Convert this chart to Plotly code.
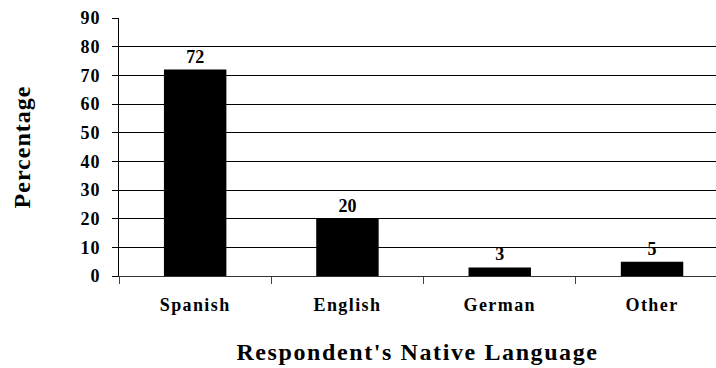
import plotly.graph_objects as go

# Survey results: respondents' native language
languages = ["Spanish", "English", "German", "Other"]
percentages = [72, 20, 3, 5]
y_ticks = [0, 10, 20, 30, 40, 50, 60, 70, 80, 90]

SERIF = "Liberation Serif, Times New Roman, serif"

fig = go.Figure(
    go.Bar(
        x=languages,
        y=percentages,
        marker=dict(color="black", line=dict(width=0)),
        text=[str(v) for v in percentages],
        textposition="outside",
        textfont=dict(family=SERIF, size=18, color="black", weight="bold"),
        cliponaxis=False,
        width=0.41,
    )
)

fig.update_layout(
    width=716,
    height=368,
    margin=dict(l=119, r=0, t=18, b=92),
    paper_bgcolor="white",
    plot_bgcolor="white",
    showlegend=False,
    font=dict(family=SERIF, color="black", weight="bold"),
)

fig.update_xaxes(
    type="category",
    range=[-0.5, 3.42],
    tickson="boundaries",
    ticks="outside",
    ticklen=7,
    tickwidth=1,
    tickcolor="#444",
    showline=True,
    linecolor="#333",
    linewidth=1,
    showgrid=False,
    tickfont=dict(family=SERIF, size=18, color="black", weight="bold"),
    ticklabelstandoff=12,
    title=dict(
        text="Respondent's Native Language",
        font=dict(family=SERIF, size=24, color="black", weight="bold"),
        standoff=29,
    ),
    automargin=False,
)

fig.update_yaxes(
    range=[0, 90],
    tickmode="array",
    tickvals=y_ticks,
    ticktext=[str(v) for v in y_ticks],
    ticks="outside",
    ticklen=6,
    tickwidth=1,
    tickcolor="black",
    showline=True,
    linecolor="black",
    linewidth=1,
    showgrid=True,
    gridcolor="black",
    gridwidth=1,
    zeroline=False,
    tickfont=dict(family=SERIF, size=18, color="black", weight="bold"),
    ticklabelstandoff=8,
    title=dict(
        text="Percentage",
        font=dict(family=SERIF, size=24, color="black", weight="bold"),
        standoff=45,
    ),
    automargin=False,
)

# Widen the letter spacing of the chart text after rendering
spacing_js = """
var gd = document.getElementById('{plot_id}');
gd.querySelectorAll('.xtick text').forEach(function(t){ t.style.letterSpacing = '1.4px'; });
gd.querySelectorAll('.ytick text').forEach(function(t){ t.style.letterSpacing = '1px'; });
gd.querySelectorAll('.textpoint text').forEach(function(t){ t.style.letterSpacing = '1.5px'; });
gd.querySelectorAll('.xtitle').forEach(function(t){ t.style.letterSpacing = '1.6px'; });
gd.querySelectorAll('.ytitle').forEach(function(t){ t.style.letterSpacing = '1px'; });
"""

fig.write_html("out.html", post_script=spacing_js)
